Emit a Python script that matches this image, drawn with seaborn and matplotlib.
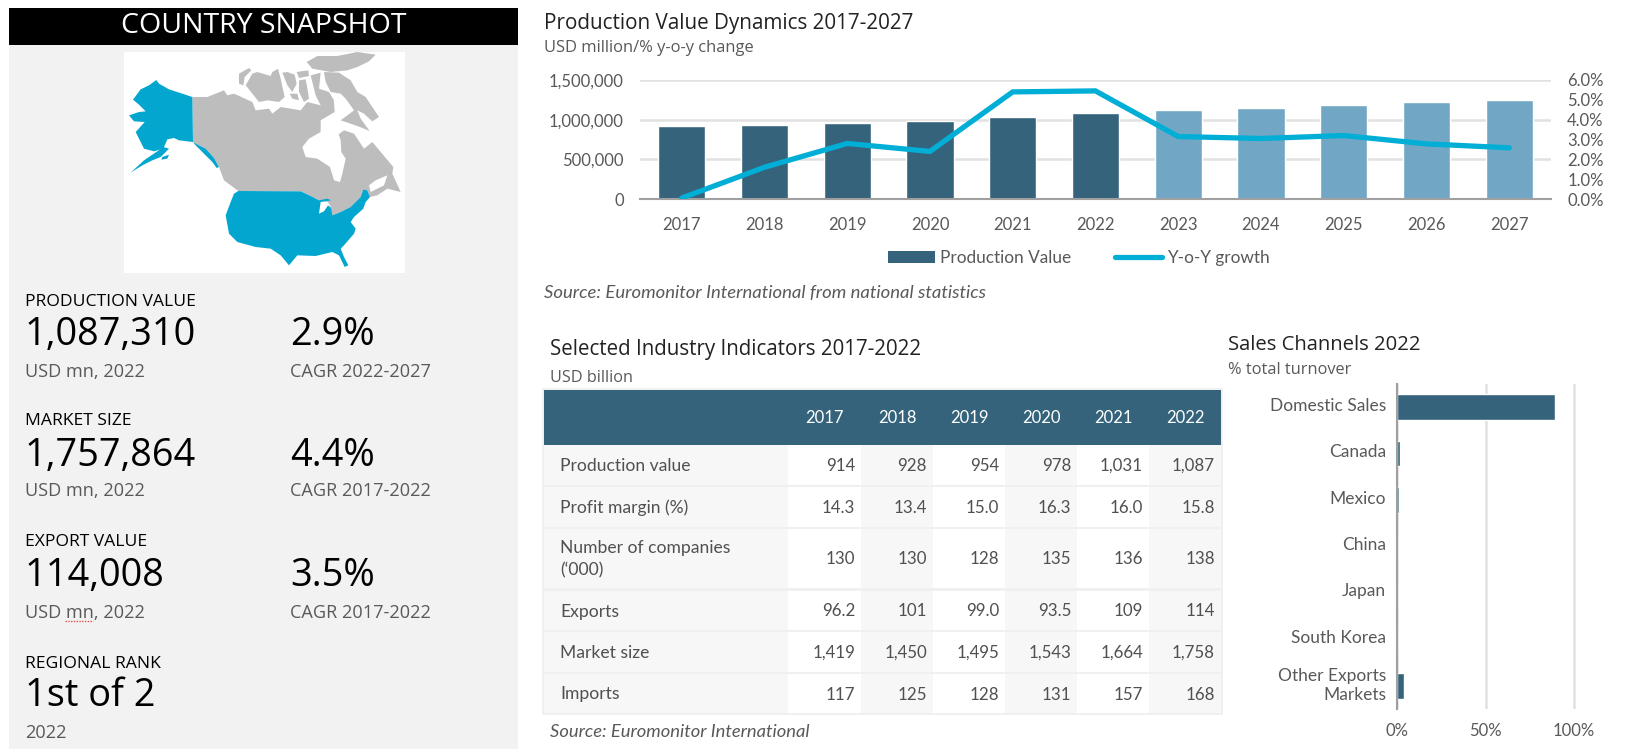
import numpy as np
import pandas as pd
import matplotlib
matplotlib.use("Agg")
import matplotlib.pyplot as plt
from matplotlib.patches import Rectangle, Polygon
from matplotlib.lines import Line2D
from matplotlib.patches import Patch
from matplotlib.ticker import FuncFormatter
from matplotlib.transforms import ScaledTranslation
import seaborn as sns

# ---------- data ----------
years = ["2017","2018","2019","2020","2021","2022","2023","2024","2025","2026","2027"]
production = [914000,928000,954000,978000,1031000,1087310,1118000,1150000,1190000,1220000,1250000]
growth = [0.05,1.6,2.8,2.4,5.4,5.45,3.15,3.05,3.2,2.78,2.58]
periods = ["hist"]*6 + ["fcst"]*5

table_years = ["2017","2018","2019","2020","2021","2022"]
table_labels = ["Production value","Profit margin (%)","Number of companies\n(‘000)","Exports","Market size","Imports"]
table_values = [
    ["914","928","954","978","1,031","1,087"],
    ["14.3","13.4","15.0","16.3","16.0","15.8"],
    ["130","130","128","135","136","138"],
    ["96.2","101","99.0","93.5","109","114"],
    ["1,419","1,450","1,495","1,543","1,664","1,758"],
    ["117","125","128","131","157","168"],
]

channels = ["Domestic Sales","Canada","Mexico","China","Japan","South Korea","Other Exports\nMarkets"]
shares = [89.5,1.9,1.1,0.05,0.05,0.05,3.8]

kpi_heads = ["PRODUCTION VALUE","MARKET SIZE","EXPORT VALUE","REGIONAL RANK"]
kpi_values = ["1,087,310","1,757,864","114,008","1st of 2"]
kpi_units = ["USD mn, 2022","USD mn, 2022","USD mn, 2022","2022"]
kpi_rates = ["2.9%","4.4%","3.5%",None]
kpi_rate_notes = ["CAGR 2022-2027","CAGR 2017-2022","CAGR 2017-2022",None]

# rough map outlines (in 3x crop coordinates)
map_alaska = [
    [(205,135),(175,125),(135,112),(105,95),(97,84),(75,100),(50,112),(27,143),(45,158),(65,178),(45,180),(15,190),(30,208),(62,210),(35,240),(50,270),(60,290),(90,298),(118,290),(130,262),(150,258),(165,265),(207,270)],
    [(118,285),(135,290),(110,315),(85,325),(55,340),(20,362),(60,325),(100,298)],
    [(115,315),(135,308),(130,320),(112,323)],
    [(207,270),(225,280),(245,290),(270,318),(285,345),(278,348),(265,330),(240,305),(215,280)],
]
map_usa = [(343,417),(530,418),(560,432),(585,445),(610,440),(622,445),(590,450),(585,485),(600,478),(612,460),(622,468),(625,490),(650,480),(680,465),(710,435),(718,412),(730,415),(738,435),(725,450),(718,470),(690,495),(680,510),(695,530),(690,545),(660,580),(650,590),(660,615),(673,640),(662,645),(645,610),(625,600),(575,612),(520,610),(495,640),(470,610),(440,590),(395,585),(340,570),(315,545),(305,490),(320,450),(330,425)]
map_canada = [
    [(205,135),(250,135),(300,115),(310,130),(330,125),(385,150),(395,175),(435,170),(445,185),(470,165),(530,175),(550,150),(590,160),(630,150),(632,180),(590,205),(590,240),(640,250),(660,235),(690,245),(720,290),(745,270),(808,345),(805,365),(830,420),(790,410),(760,430),(738,435),(730,415),(718,412),(710,435),(680,465),(650,480),(625,490),(622,468),(612,450),(585,445),(560,432),(530,418),(343,417),(320,400),(300,385),(285,345),(270,318),(245,290),(225,280),(207,270)],
    [(548,30),(580,12),(640,12),(700,0),(755,8),(735,28),(700,45),(670,55),(620,60),(565,50)],
    [(345,95),(345,65),(375,48),(382,55),(362,75),(358,100)],
    [(365,100),(385,65),(400,60),(440,72),(445,60),(462,50),(470,80),(482,135),(465,150),(430,145),(405,150),(385,125)],
    [(475,62),(490,60),(512,68),(518,95),(505,120),(490,100)],
    [(497,125),(520,125),(525,145),(505,140)],
    [(518,60),(553,55),(555,72),(525,78)],
    [(525,85),(545,82),(552,120),(555,140),(540,150),(525,120)],
    [(560,70),(590,62),(585,110),(615,120),(630,145),(628,155),(590,160),(575,130)],
    [(600,60),(645,62),(680,85),(700,120),(725,135),(765,195),(745,208),(720,185),(700,175),(710,200),(737,237),(700,222),(650,205),(690,175),(665,140),(650,125),(620,120),(605,90)],
]
map_water = [
    [(595,200),(610,225),(640,235),(650,265),(652,300),(665,320),(655,365),(648,390),(630,385),(618,345),(580,320),(545,315),(535,285),(555,260),(590,240)],
    [(735,400),(755,385),(790,370),(780,400),(740,420)],
    [(650,155),(670,170),(655,170)],
]

# ---------- styling ----------
DARK = "#36637C"; LIGHT = "#71A7C5"; CYAN = "#00AED6"
GRID = "#E1E1E1"; AXIS = "#A0A0A0"; TXT = "#595959"
HEAD = "Open Sans"; BODY = "Lato"

sns.set_theme(style="white")
plt.rcParams["font.family"] = [BODY, "DejaVu Sans"]

W, H = 1626, 756
fig = plt.figure(figsize=(W/100, H/100), dpi=100, facecolor="white")

def axpx(x0, y0, x1, y1, **kw):
    return fig.add_axes([x0/W, 1-y1/H, (x1-x0)/W, (y1-y0)/H], **kw)

ov = fig.add_axes([0,0,1,1], zorder=0)
ov.set_xlim(0,W); ov.set_ylim(H,0); ov.axis("off")

def T(x, y, s, size, color="black", family=BODY, ha="left", va="center", **kw):
    ov.text(x, y, s, fontsize=size, color=color, family=family, ha=ha, va=va, **kw)

# ---------- left panel ----------
ov.add_patch(Rectangle((9,8),509,741,fc="#F2F2F2",ec="none"))
ov.add_patch(Rectangle((9,8),509,36.5,fc="black",ec="none"))
T(263.5,26,"COUNTRY SNAPSHOT",20.5,"white",HEAD,ha="center")
ov.add_patch(Rectangle((124,52),281,220.7,fc="white",ec="none"))
def poly(pts, c):
    a = np.array(pts,float)/3 + [124,52]
    ov.add_patch(Polygon(a, closed=True, fc=c, ec="none"))
for p in map_canada:
    poly(p,"#BDBDBD")
for p in map_water:
    poly(p,"white")
for p in map_alaska:
    poly(p,"#03A6CF")
poly(map_usa,"#03A6CF")

head_y = [301.5,421,542,663.5]
val_y = [335,456,576,696.5]
unit_y = [372,491.5,613,733]
for i in range(4):
    T(25,head_y[i],kpi_heads[i],12.6,"black",HEAD)
    T(25,val_y[i],kpi_values[i],27.3,"black",HEAD)
    T(25,unit_y[i],kpi_units[i],13.1,"#595959",HEAD)
    if kpi_rates[i]:
        T(290,val_y[i],kpi_rates[i],27.3,"black",HEAD)
        T(290,unit_y[i],kpi_rate_notes[i],13.1,"#595959",HEAD)
ov.plot([65,93],[620.5,620.5],color="#E05050",lw=1,ls=(0,(1,1)))

# ---------- production chart ----------
T(544,23,"Production Value Dynamics 2017-2027",14.9,"#222222",HEAD)
T(544,48,"USD million/% y-o-y change",11.9,"#595959",HEAD)
ax = axpx(640.4,80,1550.5,199,zorder=2)
ax.patch.set_alpha(0)
df = pd.DataFrame({"year":years,"production":production,"period":periods,"growth":growth})
sns.barplot(data=df,x="year",y="production",hue="period",palette={"hist":DARK,"fcst":LIGHT},
            dodge=False,width=0.57,legend=False,ax=ax,saturation=1,zorder=3)
ax.set_xlim(-0.5,10.5); ax.set_ylim(0,1500000)
ax.set_yticks([0,500000,1000000,1500000])
ax.yaxis.set_major_formatter(FuncFormatter(lambda v,p:f"{int(v):,}"))
ax.grid(axis="y",color=GRID,lw=1.8,zorder=0); ax.set_axisbelow(True)
ax.set_xlabel(""); ax.set_ylabel("")
ax.tick_params(axis="y",length=0,pad=12,labelsize=12,labelcolor=TXT)
ax.tick_params(axis="x",length=0,pad=13,labelsize=12,labelcolor=TXT)
sns.despine(ax=ax,left=True,top=True,right=True)
ax.spines["bottom"].set_color(AXIS); ax.spines["bottom"].set_linewidth(1.5)
ax.spines["bottom"].set_zorder(6)
ax2 = ax.twinx()
ax2.patch.set_alpha(0)
sns.lineplot(x=np.arange(len(years)),y=growth,color=CYAN,lw=3.8,ax=ax2,solid_capstyle="round",solid_joinstyle="miter",zorder=5)
ax2.set_ylim(0,6); ax2.set_yticks(range(7))
ax2.yaxis.set_major_formatter(FuncFormatter(lambda v,p:f"{v:.1f}%"))
ax2.tick_params(axis="y",length=0,pad=12,labelsize=12,labelcolor=TXT)
ax2.grid(False)
for s in ax2.spines.values():
    s.set_visible(False)
handles = [Patch(fc=DARK,ec="none",label="Production Value"),
           Line2D([0],[0],color=CYAN,lw=3.8,solid_capstyle="round",label="Y-o-Y growth")]
fig.legend(handles=handles,loc="center",bbox_to_anchor=(1079/W,1-258/H),ncol=2,frameon=False,
           fontsize=12.4,labelcolor=TXT,handlelength=2.7,handletextpad=0.3,columnspacing=2.55,handleheight=0.7)
T(544,293,"Source: Euromonitor International from national statistics",13.3,"#595959",BODY,style="italic")

# ---------- table ----------
T(550,349,"Selected Industry Indicators 2017-2022",14.8,"#222222",HEAD)
T(550,378,"USD billion",11.7,"#595959",HEAD)
ov.add_patch(Rectangle((542,388),681,327,fc="#F0F0F0",ec="none"))
ov.add_patch(Rectangle((544,390),677,55,fc=DARK,ec="none"))
col_edges = [544,788,861,933,1005,1077,1149,1221]
row_tops = [445,487,529,591,632,674]
row_bots = [485,527,588,630,672,713]
for j,y in enumerate(table_years):
    T((col_edges[j+1]+col_edges[j+2])/2,418,y,12,"white",BODY,ha="center")
for i,lab in enumerate(table_labels):
    t,b = row_tops[i],row_bots[i]
    ov.add_patch(Rectangle((544,t),244,b-t,fc="#F7F7F7",ec="none"))
    T(560,(t+b)/2+1,lab,12.6,"#505050",BODY,linespacing=1.5)
    for j,v in enumerate(table_values[i]):
        c = "white" if j%2==0 else "#F7F7F7"
        ov.add_patch(Rectangle((col_edges[j+1],t),col_edges[j+2]-col_edges[j+1],b-t,fc=c,ec="none"))
        T(col_edges[j+2]-6,(t+b)/2+1,v,12.2,"#505050",BODY,ha="right")
T(550,732,"Source: Euromonitor International",13.2,"#595959",BODY,style="italic")

# ---------- sales channels ----------
T(1228,345,"Sales Channels 2022",14.6,"#222222",HEAD)
T(1228,370,"% total turnover",11.8,"#595959",HEAD)
ax3 = axpx(1397,384,1574+40,709,zorder=2)
ax3.patch.set_alpha(0)
sns.barplot(x=shares,y=channels,color=DARK,saturation=1,width=0.55,ax=ax3,orient="h")
ax3.set_xlim(0,100*(1614-1397)/(1574-1397))
ax3.set_xticks([0,50,100]); ax3.set_xticklabels(["0%","50%","100%"])
ax3.grid(axis="x",color=GRID,lw=1.8); ax3.set_axisbelow(True)
ax3.tick_params(axis="x",length=0,pad=10,labelsize=12,labelcolor=TXT)
ax3.tick_params(axis="y",length=0,pad=8,labelsize=12.5,labelcolor=TXT)
ax3.set_xlabel(""); ax3.set_ylabel("")
shift = ScaledTranslation(0,3/100,fig.dpi_scale_trans)
for lab in ax3.get_yticklabels():
    lab.set_transform(lab.get_transform()+shift)
for s in ("top","right","bottom"):
    ax3.spines[s].set_visible(False)
ax3.spines["left"].set_color(AXIS); ax3.spines["left"].set_linewidth(1.5)

fig.savefig("out.png",dpi=100,facecolor="white")
